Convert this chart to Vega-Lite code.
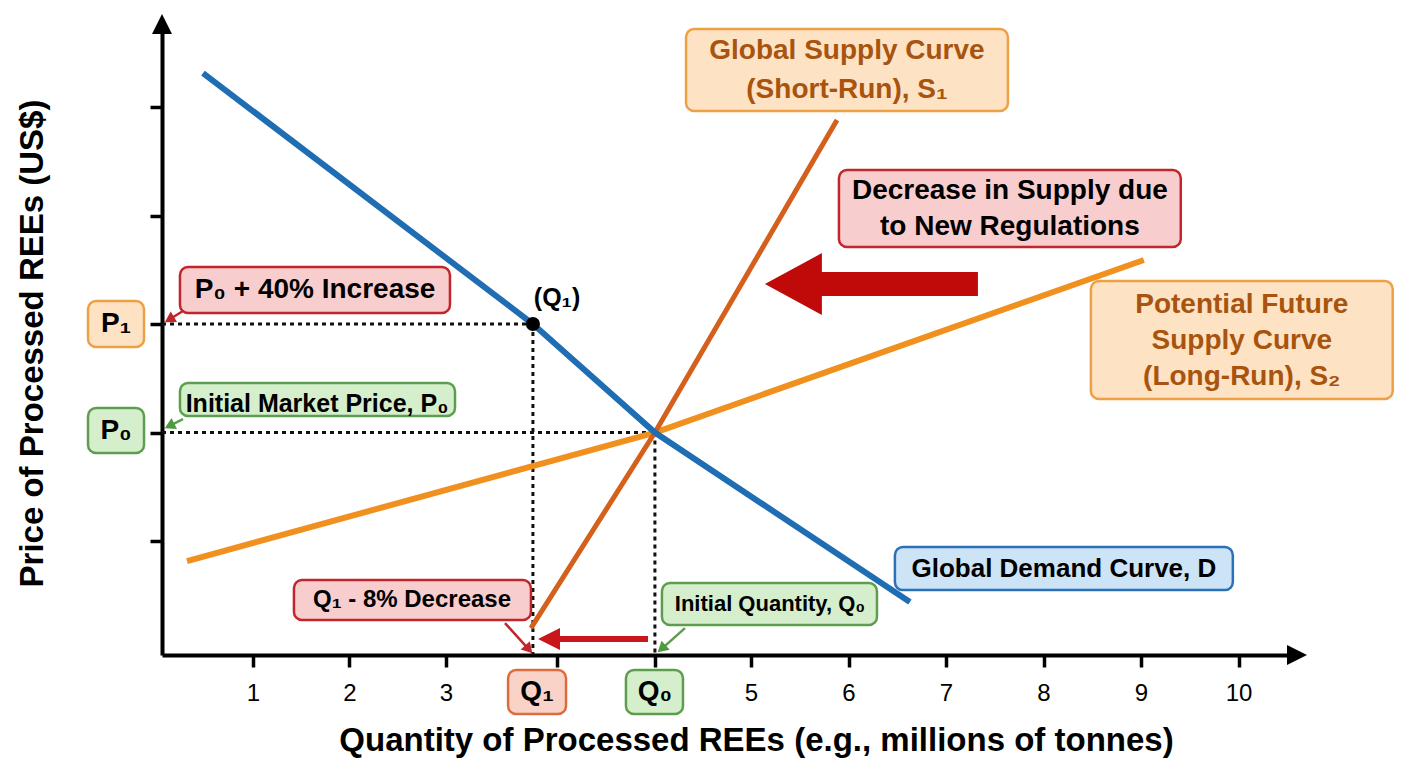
{
  "$schema": "https://vega.github.io/schema/vega-lite/v6.json",
  "width": 1135,
  "height": 631,
  "autosize": {"type": "none"},
  "padding": {"left": 162, "top": 24, "right": 111, "bottom": 113},
  "background": "white",
  "config": {"font": "Liberation Sans", "view": {"stroke": null}},
  "datasets": {
    "curves": [
      {"curve": "S2", "x": 0.319, "y": 0.816},
      {"curve": "S2", "x": 4.37, "y": 2.0},
      {"curve": "S2", "x": 9.029, "y": 3.59},
      {"curve": "S1", "x": 3.557, "y": 0.198},
      {"curve": "S1", "x": 4.37, "y": 2.0},
      {"curve": "S1", "x": 5.882, "y": 4.88},
      {"curve": "D", "x": 0.484, "y": 5.313},
      {"curve": "D", "x": 3.57, "y": 3.0},
      {"curve": "D", "x": 4.37, "y": 2.0},
      {"curve": "D", "x": 6.63, "y": 0.438}
    ],
    "guides": [
      {"x": 0.06, "y": 3.0, "x2": 3.57, "y2": 3.0},
      {"x": 3.57, "y": 3.0, "x2": 3.57, "y2": -0.05},
      {"x": 0.06, "y": 2.0, "x2": 4.37, "y2": 2.0},
      {"x": 4.37, "y": 2.0, "x2": 4.37, "y2": -0.05}
    ],
    "dot": [{"x": 3.57, "y": 3.0}],
    "boxes": [
      {"id": "s1", "kind": "supply", "x": 4.574, "x2": 7.635, "y": 4.963, "y2": 5.719},
      {"id": "cut", "kind": "change", "x": 5.902, "x2": 9.408, "y": 3.71, "y2": 4.419},
      {"id": "s2", "kind": "supply", "x": 8.486, "x2": 11.582, "y": 2.309, "y2": 3.396},
      {"id": "dem", "kind": "demand", "x": 6.476, "x2": 9.942, "y": 0.548, "y2": 0.945},
      {"id": "p40", "kind": "change", "x": 0.246, "x2": 3.026, "y": 3.101, "y2": 3.525},
      {"id": "imp", "kind": "initial", "x": 0.246, "x2": 3.059, "y": 2.152, "y2": 2.456},
      {"id": "p1", "kind": "supply", "x": -0.706, "x2": -0.126, "y": 2.788, "y2": 3.212},
      {"id": "p0", "kind": "initial", "x": -0.706, "x2": -0.126, "y": 1.811, "y2": 2.226},
      {"id": "q8", "kind": "change", "x": 1.426, "x2": 3.557, "y": 0.272, "y2": 0.641},
      {"id": "iq", "kind": "initial", "x": 4.416, "x2": 6.292, "y": 0.226, "y2": 0.613},
      {"id": "q1", "kind": "newq", "x": 3.407, "x2": 3.787, "y": -0.594, "y2": -0.189},
      {"id": "q0", "kind": "initial", "x": 4.18, "x2": 4.554, "y": -0.594, "y2": -0.189}
    ],
    "labels": [
      {"id": "s1", "x": 5.984, "y": 5.332, "text": "Global Supply Curve\n(Short-Run), S₁"},
      {"id": "s2", "x": 10.034, "y": 2.843, "text": "Potential Future\nSupply Curve\n(Long-Run), S₂"},
      {"id": "cut", "x": 7.655, "y": 4.06, "text": "Decrease in Supply due\nto New Regulations"},
      {"id": "p40", "x": 1.644, "y": 3.313, "text": "P₀ + 40% Increase"},
      {"id": "p1", "x": -0.416, "y": 3.0, "text": "P₁"},
      {"id": "p0", "x": -0.416, "y": 2.014, "text": "P₀"},
      {"id": "q1", "x": 3.597, "y": -0.392, "text": "Q₁"},
      {"id": "q0", "x": 4.37, "y": -0.392, "text": "Q₀"},
      {"id": "dem", "x": 8.209, "y": 0.742, "text": "Global Demand Curve, D"},
      {"id": "imp", "x": 1.665, "y": 2.263, "text": "Initial Market Price, P₀"},
      {"id": "q1pt", "x": 3.728, "y": 3.24, "text": "(Q₁)"},
      {"id": "q8", "x": 2.648, "y": 0.456, "text": "Q₁ - 8% Decrease"},
      {"id": "iq", "x": 5.195, "y": 0.419, "text": "Initial Quantity, Q₀"}
    ],
    "callouts": [
      {"id": "p1", "kind": "change", "x": 0.277, "y": 3.12, "x2": 0.136, "y2": 3.042},
      {"id": "p0", "kind": "initial", "x": 0.277, "y": 2.124, "x2": 0.138, "y2": 2.062},
      {"id": "q1", "kind": "change", "x": 3.387, "y": 0.244, "x2": 3.543, "y2": 0.002},
      {"id": "q0", "kind": "initial", "x": 4.567, "y": 0.198, "x2": 4.414, "y2": 0.007}
    ],
    "heads": [
      {"id": "p1", "x": 0.136, "y": 3.042},
      {"id": "p0", "x": 0.138, "y": 2.062},
      {"id": "q1", "x": 3.543, "y": 0.002},
      {"id": "q0", "x": 4.414, "y": 0.007}
    ],
    "shifts": [
      {"id": "big", "x": 6.235, "y": 3.369},
      {"id": "small", "x": 3.964, "y": 0.097}
    ],
    "axisheads": [
      {"id": "yhead", "x": 0.06, "y": 5.765},
      {"id": "xhead", "x": 10.6, "y": -0.05}
    ]
  },
  "encoding": {
    "x": {
      "field": "x",
      "type": "quantitative",
      "title": "Quantity of Processed REEs (e.g., millions of tonnes)",
      "scale": {"domain": [0.06, 3, 5, 10.6], "range": [0, 284, 589, 1135], "nice": false, "zero": false},
      "axis": {
        "values": [1, 2, 3, 3.73, 4.37, 5, 6, 7, 8, 9, 10],
        "labelExpr": "datum.value % 1 === 0 ? format(datum.value, 'd') : ''",
        "labelFont": "Liberation Sans",
        "labelFontSize": 24,
        "labelColor": "#000000",
        "labelPadding": 14,
        "tickSize": 12,
        "tickWidth": 3.5,
        "tickColor": "#000000",
        "domainColor": "#000000",
        "domainWidth": 4,
        "grid": false,
        "titleFont": "Liberation Sans",
        "titleFontSize": 33,
        "titleFontWeight": "bold",
        "titleColor": "#000000",
        "titleX": 594,
        "titleY": 95,
        "titleAlign": "center",
        "titleBaseline": "alphabetic"
      }
    },
    "y": {
      "field": "y",
      "type": "quantitative",
      "title": "Price of Processed REEs (US$)",
      "scale": {"domain": [-0.05, 5.765], "nice": false, "zero": false},
      "axis": {
        "values": [1, 2, 3, 4, 5],
        "labels": false,
        "tickSize": 12,
        "tickWidth": 3.5,
        "tickColor": "#000000",
        "domainColor": "#000000",
        "domainWidth": 4,
        "grid": false,
        "titleFont": "Liberation Sans",
        "titleFontSize": 33,
        "titleFontWeight": "bold",
        "titleColor": "#000000",
        "titleX": -130,
        "titleY": 319,
        "titleAngle": 270,
        "titleAlign": "center",
        "titleBaseline": "middle"
      }
    }
  },
  "layer": [
    {
      "data": {"name": "guides"},
      "mark": {"type": "rule", "strokeDash": [4, 4], "strokeWidth": 3, "color": "#111111"},
      "encoding": {"x2": {"field": "x2"}, "y2": {"field": "y2"}}
    },
    {
      "data": {"name": "curves"},
      "transform": [{"filter": "datum.curve === 'S2'"}],
      "mark": {"type": "line", "color": "#f0901e", "strokeWidth": 6}
    },
    {
      "data": {"name": "curves"},
      "transform": [{"filter": "datum.curve === 'S1'"}],
      "mark": {"type": "line", "color": "#d4601c", "strokeWidth": 5}
    },
    {
      "data": {"name": "curves"},
      "transform": [{"filter": "datum.curve === 'D'"}],
      "mark": {"type": "line", "color": "#1f6db3", "strokeWidth": 6}
    },
    {
      "data": {"name": "dot"},
      "mark": {"type": "point", "shape": "circle", "filled": true, "size": 200, "color": "#000000", "opacity": 1}
    },
    {
      "data": {"name": "callouts"},
      "mark": {"type": "rule", "strokeWidth": 2.5},
      "encoding": {
        "x2": {"field": "x2"},
        "y2": {"field": "y2"},
        "stroke": {
          "field": "kind",
          "type": "nominal",
          "scale": {"domain": ["supply", "change", "initial", "demand", "newq"], "range": ["#eea045", "#c0262c", "#5c9e4d", "#2b71b7", "#dd6b3c"]},
          "legend": null
        }
      }
    },
    {
      "data": {"name": "heads"},
      "transform": [{"filter": "datum.id === 'p1'"}],
      "mark": {"type": "point", "shape": "triangle-up", "angle": 238.6, "size": 150, "filled": true, "opacity": 1, "color": "#c0262c"}
    },
    {
      "data": {"name": "heads"},
      "transform": [{"filter": "datum.id === 'p0'"}],
      "mark": {"type": "point", "shape": "triangle-up", "angle": 243.4, "size": 150, "filled": true, "opacity": 1, "color": "#4f9a40"}
    },
    {
      "data": {"name": "heads"},
      "transform": [{"filter": "datum.id === 'q1'"}],
      "mark": {"type": "point", "shape": "triangle-up", "angle": 138, "size": 150, "filled": true, "opacity": 1, "color": "#c0262c"}
    },
    {
      "data": {"name": "heads"},
      "transform": [{"filter": "datum.id === 'q0'"}],
      "mark": {"type": "point", "shape": "triangle-up", "angle": 228.4, "size": 150, "filled": true, "opacity": 1, "color": "#4f9a40"}
    },
    {
      "data": {"name": "boxes"},
      "mark": {"type": "rect", "cornerRadius": 8, "strokeWidth": 2.5},
      "encoding": {
        "x2": {"field": "x2"},
        "y2": {"field": "y2"},
        "fill": {
          "field": "kind",
          "type": "nominal",
          "scale": {"domain": ["supply", "change", "initial", "demand", "newq"], "range": ["#fde2c3", "#f8cdcd", "#d5efcd", "#cde3f6", "#f9d3c7"]},
          "legend": null
        },
        "stroke": {
          "field": "kind",
          "type": "nominal",
          "scale": {"domain": ["supply", "change", "initial", "demand", "newq"], "range": ["#eea045", "#c0262c", "#5c9e4d", "#2b71b7", "#dd6b3c"]},
          "legend": null
        }
      }
    },
    {
      "data": {"name": "labels"},
      "transform": [{"filter": "datum.id === 's1'"}],
      "mark": {"type": "text", "font": "Liberation Sans", "fontWeight": "bold", "fontSize": 28, "align": "center", "baseline": "middle", "lineBreak": "\n", "lineHeight": 39, "dy": -19.5, "color": "#a8540f"},
      "encoding": {"text": {"field": "text"}}
    },
    {
      "data": {"name": "labels"},
      "transform": [{"filter": "datum.id === 's2'"}],
      "mark": {"type": "text", "font": "Liberation Sans", "fontWeight": "bold", "fontSize": 28, "align": "center", "baseline": "middle", "lineBreak": "\n", "lineHeight": 36, "dy": -36, "color": "#a8540f"},
      "encoding": {"text": {"field": "text"}}
    },
    {
      "data": {"name": "labels"},
      "transform": [{"filter": "datum.id === 'cut'"}],
      "mark": {"type": "text", "font": "Liberation Sans", "fontWeight": "bold", "fontSize": 28, "align": "center", "baseline": "middle", "lineBreak": "\n", "lineHeight": 36, "dy": -18, "color": "#000000"},
      "encoding": {"text": {"field": "text"}}
    },
    {
      "data": {"name": "labels"},
      "transform": [{"filter": "indexof(['p40','p1','p0','q1','q0'], datum.id) >= 0"}],
      "mark": {"type": "text", "font": "Liberation Sans", "fontWeight": "bold", "fontSize": 28, "align": "center", "baseline": "middle", "color": "#000000"},
      "encoding": {"text": {"field": "text"}}
    },
    {
      "data": {"name": "labels"},
      "transform": [{"filter": "datum.id === 'dem'"}],
      "mark": {"type": "text", "font": "Liberation Sans", "fontWeight": "bold", "fontSize": 26, "align": "center", "baseline": "middle", "color": "#000000"},
      "encoding": {"text": {"field": "text"}}
    },
    {
      "data": {"name": "labels"},
      "transform": [{"filter": "indexof(['imp','q1pt'], datum.id) >= 0"}],
      "mark": {"type": "text", "font": "Liberation Sans", "fontWeight": "bold", "fontSize": 25, "align": "center", "baseline": "middle", "color": "#000000"},
      "encoding": {"text": {"field": "text"}}
    },
    {
      "data": {"name": "labels"},
      "transform": [{"filter": "datum.id === 'q8'"}],
      "mark": {"type": "text", "font": "Liberation Sans", "fontWeight": "bold", "fontSize": 24, "align": "center", "baseline": "middle", "color": "#000000"},
      "encoding": {"text": {"field": "text"}}
    },
    {
      "data": {"name": "labels"},
      "transform": [{"filter": "datum.id === 'iq'"}],
      "mark": {"type": "text", "font": "Liberation Sans", "fontWeight": "bold", "fontSize": 22, "align": "center", "baseline": "middle", "color": "#000000"},
      "encoding": {"text": {"field": "text"}}
    },
    {
      "data": {"name": "shifts"},
      "transform": [{"filter": "datum.id === 'big'"}],
      "mark": {"type": "point", "shape": "M -1 0 L -0.465 -0.29 L -0.465 -0.113 L 1 -0.113 L 1 0.113 L -0.465 0.113 L -0.465 0.29 Z", "size": 45369, "filled": true, "opacity": 1, "strokeWidth": 0, "color": "#c00a0a"}
    },
    {
      "data": {"name": "shifts"},
      "transform": [{"filter": "datum.id === 'small'"}],
      "mark": {"type": "point", "shape": "M -1 0 L -0.6 -0.2 L -0.6 -0.055 L 1 -0.055 L 1 0.055 L -0.6 0.055 L -0.6 0.2 Z", "size": 12100, "filled": true, "opacity": 1, "strokeWidth": 0, "color": "#c8161a"}
    },
    {
      "data": {"name": "axisheads"},
      "transform": [{"filter": "datum.id === 'yhead'"}],
      "mark": {"type": "point", "shape": "M 0 -1 L 1 1 L -1 1 Z", "size": 400, "filled": true, "opacity": 1, "strokeWidth": 0, "color": "#000000"}
    },
    {
      "data": {"name": "axisheads"},
      "transform": [{"filter": "datum.id === 'xhead'"}],
      "mark": {"type": "point", "shape": "M 1 0 L -1 -1 L -1 1 Z", "size": 400, "filled": true, "opacity": 1, "strokeWidth": 0, "color": "#000000"}
    }
  ]
}
